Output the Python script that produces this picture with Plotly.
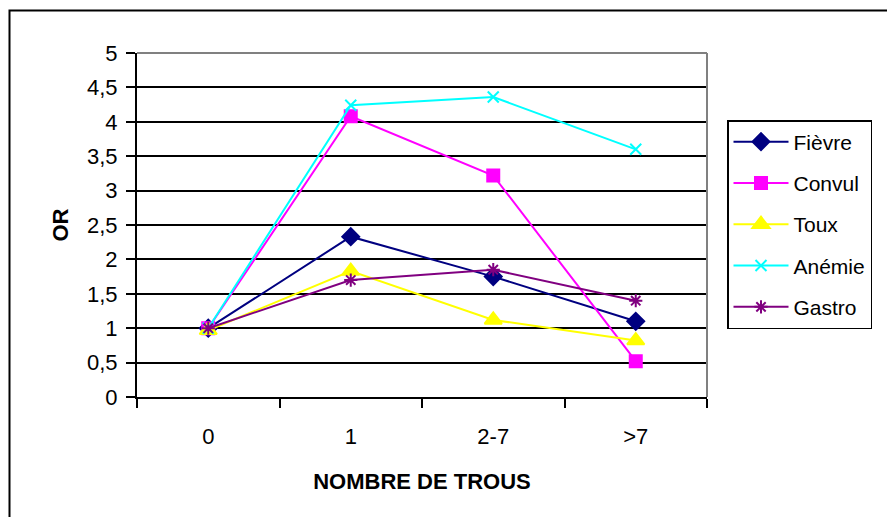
import plotly.graph_objects as go

# Categories: number of holes
categories = ["0", "1", "2-7", ">7"]

# Odds ratios per symptom
fievre = [1.00, 2.33, 1.75, 1.10]
convul = [1.00, 4.08, 3.22, 0.52]
toux = [0.97, 1.83, 1.12, 0.82]
anemie = [1.00, 4.24, 4.36, 3.60]
gastro = [1.00, 1.70, 1.85, 1.40]

series = [
    ("Fièvre", fievre, "#000080", "diamond", 13, 2),
    ("Convul", convul, "#FF00FF", "square", 12, 2),
    ("Toux", toux, "#FFFF00", "triangle-up", 15, 2),
    ("Anémie", anemie, "#00FFFF", "x-thin-open", 11, 2),
    ("Gastro", gastro, "#800080", "asterisk-open", 11, 2),
]

FONT = "Liberation Sans, Arial, sans-serif"

fig = go.Figure()
for i, (name, vals, color, symbol, msize, lw) in enumerate(series):
    fig.add_trace(go.Scatter(
        x=categories, y=vals, name=name, mode="lines+markers",
        legendgroup=f"g{i}",
        line=dict(color=color, width=lw),
        marker=dict(symbol=symbol, size=msize, color=color,
                    line=dict(color=color, width=2)),
        cliponaxis=False,
    ))

W, H = 887, 517
L, R, T, B = 137, 180, 53, 120
pw, ph = W - L - R, H - T - B


def px_x(p):
    return (p - L) / pw


def px_y(p):
    return (H - B - p) / ph


fig.update_layout(
    width=W, height=H,
    margin=dict(l=L, r=R, t=T, b=B, pad=0),
    paper_bgcolor="white", plot_bgcolor="white",
    separators=", ",
    font=dict(family=FONT, size=22, color="black"),
    showlegend=True,
    legend=dict(
        x=px_x(727), y=px_y(120), xanchor="left", yanchor="top",
        bordercolor="black", borderwidth=1.5, bgcolor="white",
        font=dict(family=FONT, size=21, color="black"),
        itemwidth=55, tracegroupgap=11,
        entrywidth=135,
    ),
    xaxis=dict(
        type="category", range=[-0.5, 3.5],
        showgrid=False, zeroline=False,
        showline=True, linecolor="black", linewidth=2,
        ticks="outside", ticklen=9, tickwidth=2, tickcolor="black",
        tickson="boundaries",
        ticklabelstandoff=19,
        tickfont=dict(family=FONT, size=22),
        title=dict(text="<b>NOMBRE DE TROUS</b>", standoff=25,
                   font=dict(family=FONT, size=22)),
    ),
    yaxis=dict(
        range=[0, 5], dtick=0.5, tick0=0,
        showgrid=True, gridcolor="black", gridwidth=2,
        zeroline=False,
        showline=True, linecolor="black", linewidth=2,
        ticks="outside", ticklen=9, tickwidth=2, tickcolor="black",
        ticklabelstandoff=4,
        tickfont=dict(family=FONT, size=22),
        title=dict(text="<b>OR</b>", standoff=12,
                   font=dict(family=FONT, size=22)),
    ),
    shapes=[
        # plot area border (top and right)
        dict(type="line", xref="paper", yref="paper", x0=0, x1=1, y0=1, y1=1,
             line=dict(color="#808080", width=2)),
        dict(type="line", xref="paper", yref="paper", x0=1, x1=1, y0=0, y1=1,
             line=dict(color="#808080", width=2)),
        # chart area frame
        dict(type="rect", xref="paper", yref="paper",
             x0=px_x(9.5), x1=px_x(W + 20), y0=px_y(H + 20), y1=px_y(10.5),
             line=dict(color="black", width=2), layer="below"),
    ],
)

fig.write_html("out.html")
